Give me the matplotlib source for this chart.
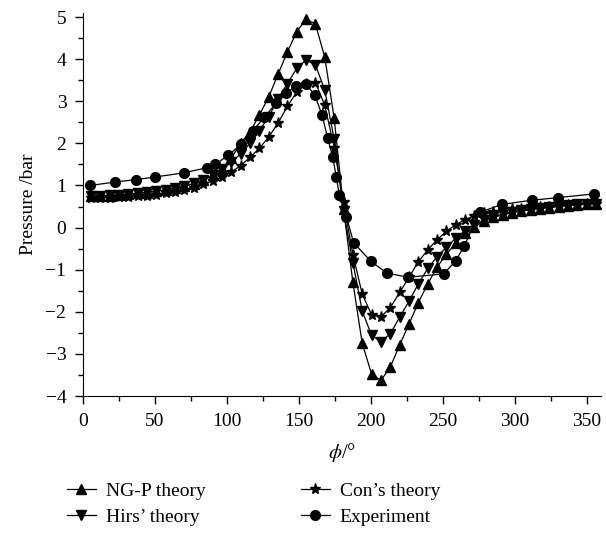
import matplotlib
matplotlib.use("Agg")
import matplotlib.pyplot as plt
from matplotlib.ticker import MultipleLocator

plt.rcParams['font.family'] = ['Liberation Serif', 'DejaVu Serif']
plt.rcParams['mathtext.fontset'] = 'stix'

# angle grid shared by the three theories (degrees)
theory_phi = [5.5, 12, 18.5, 25, 31.5, 38, 44.5, 51, 57.5, 64, 70.5, 77, 83.5, 90,
              96.5, 103, 109.5, 116, 122.5, 129, 135.5, 142, 148.5, 155, 161.5, 168,
              174.5, 181, 187.5, 194, 200.5, 207, 213.5, 220, 226.5, 233, 239.5, 246,
              252.5, 259, 265.5, 272, 278.5, 285, 291.5, 298, 304.5, 311, 317.5, 324,
              330.5, 337, 343.5, 350, 356.5]

ngp = [0.74, 0.75, 0.76, 0.77, 0.79, 0.81, 0.83, 0.86, 0.89, 0.93, 0.98, 1.04, 1.12, 1.24,
       1.4, 1.65, 2.0, 2.27, 2.67, 3.1, 3.64, 4.17, 4.65, 4.95, 4.83, 4.04,
       2.6, 0.45, -1.3, -2.75, -3.48, -3.63, -3.31, -2.79, -2.29, -1.78, -1.34, -0.94,
       -0.63, -0.37, -0.14, 0.02, 0.15, 0.24, 0.3, 0.35, 0.39, 0.42, 0.45, 0.47,
       0.5, 0.52, 0.54, 0.56, 0.57]

hirs = [0.75, 0.76, 0.77, 0.78, 0.8, 0.82, 0.84, 0.87, 0.9, 0.94, 0.99, 1.05, 1.13, 1.25,
        1.38, 1.55, 1.75, 2.0, 2.3, 2.63, 3.06, 3.42, 3.78, 3.98, 3.86, 3.26,
        2.1, 0.4, -0.83, -1.98, -2.56, -2.71, -2.52, -2.13, -1.75, -1.34, -0.97, -0.69,
        -0.47, -0.25, -0.07, 0.07, 0.18, 0.26, 0.32, 0.37, 0.41, 0.44, 0.47, 0.49,
        0.51, 0.53, 0.55, 0.56, 0.57]

con = [0.7, 0.7, 0.71, 0.72, 0.73, 0.74, 0.76, 0.78, 0.81, 0.84, 0.89, 0.95, 1.03, 1.1,
       1.2, 1.32, 1.47, 1.67, 1.88, 2.15, 2.48, 2.88, 3.22, 3.42, 3.44, 2.9,
       1.9, 0.6, -0.64, -1.58, -2.07, -2.12, -1.9, -1.54, -1.18, -0.81, -0.53, -0.29,
       -0.09, 0.07, 0.19, 0.28, 0.34, 0.38, 0.41, 0.43, 0.45, 0.47, 0.49, 0.5,
       0.52, 0.53, 0.54, 0.55, 0.56]

exp_phi = [5, 22, 37, 50, 70, 86, 92, 101, 110, 118, 126, 134, 141, 148, 155, 161, 166,
           170, 173.5, 176, 178, 183, 188, 200, 211, 226, 250.5, 259, 265, 275.5, 291,
           312, 330, 355]
exp_p = [1.0, 1.08, 1.14, 1.2, 1.3, 1.42, 1.5, 1.72, 1.98, 2.3, 2.62, 2.95, 3.2, 3.35,
         3.4, 3.15, 2.68, 2.12, 1.67, 1.2, 0.78, 0.26, -0.36, -0.8, -1.08, -1.18, -1.1,
         -0.79, -0.43, 0.36, 0.55, 0.65, 0.71, 0.8]

fig = plt.figure(figsize=(6.06, 5.33), dpi=100)
ax = fig.add_axes([0.137, 0.257, 0.855, 0.719])

lw = 0.9
ax.plot(theory_phi, ngp, '-^', color='black', lw=lw, ms=7.5, label='NG-P theory')
ax.plot(theory_phi, hirs, '-v', color='black', lw=lw, ms=7.5, label="Hirs\u2019 theory")
ax.plot(theory_phi, con, '-*', color='black', lw=lw, ms=8, label='Con\u2019s theory')
ax.plot(exp_phi, exp_p, '-o', color='black', lw=lw, ms=7, label='Experiment')

ax.set_xlim(0, 360)
ax.set_ylim(-4, 5.1)
ax.xaxis.set_major_locator(MultipleLocator(50))
ax.xaxis.set_minor_locator(MultipleLocator(25))
ax.yaxis.set_major_locator(MultipleLocator(1))
ax.yaxis.set_minor_locator(MultipleLocator(0.5))
ax.spines['top'].set_visible(False)
ax.spines['right'].set_visible(False)
ax.tick_params(which='major', direction='out', length=6, width=1, labelsize=14, pad=6)
ax.tick_params(which='minor', direction='out', length=3.5, width=1)

ax.set_xlabel(r'$\phi$/°', fontsize=15, labelpad=8)
ax.set_ylabel('Pressure /bar', fontsize=14, labelpad=6)

fig.legend(loc='center', bbox_to_anchor=(0.418, 0.054), ncol=2, frameon=False,
           fontsize=14, handlelength=1.5, columnspacing=4.9, labelspacing=0.45,
           handletextpad=0.5)

fig.savefig('out.png', dpi=100)
